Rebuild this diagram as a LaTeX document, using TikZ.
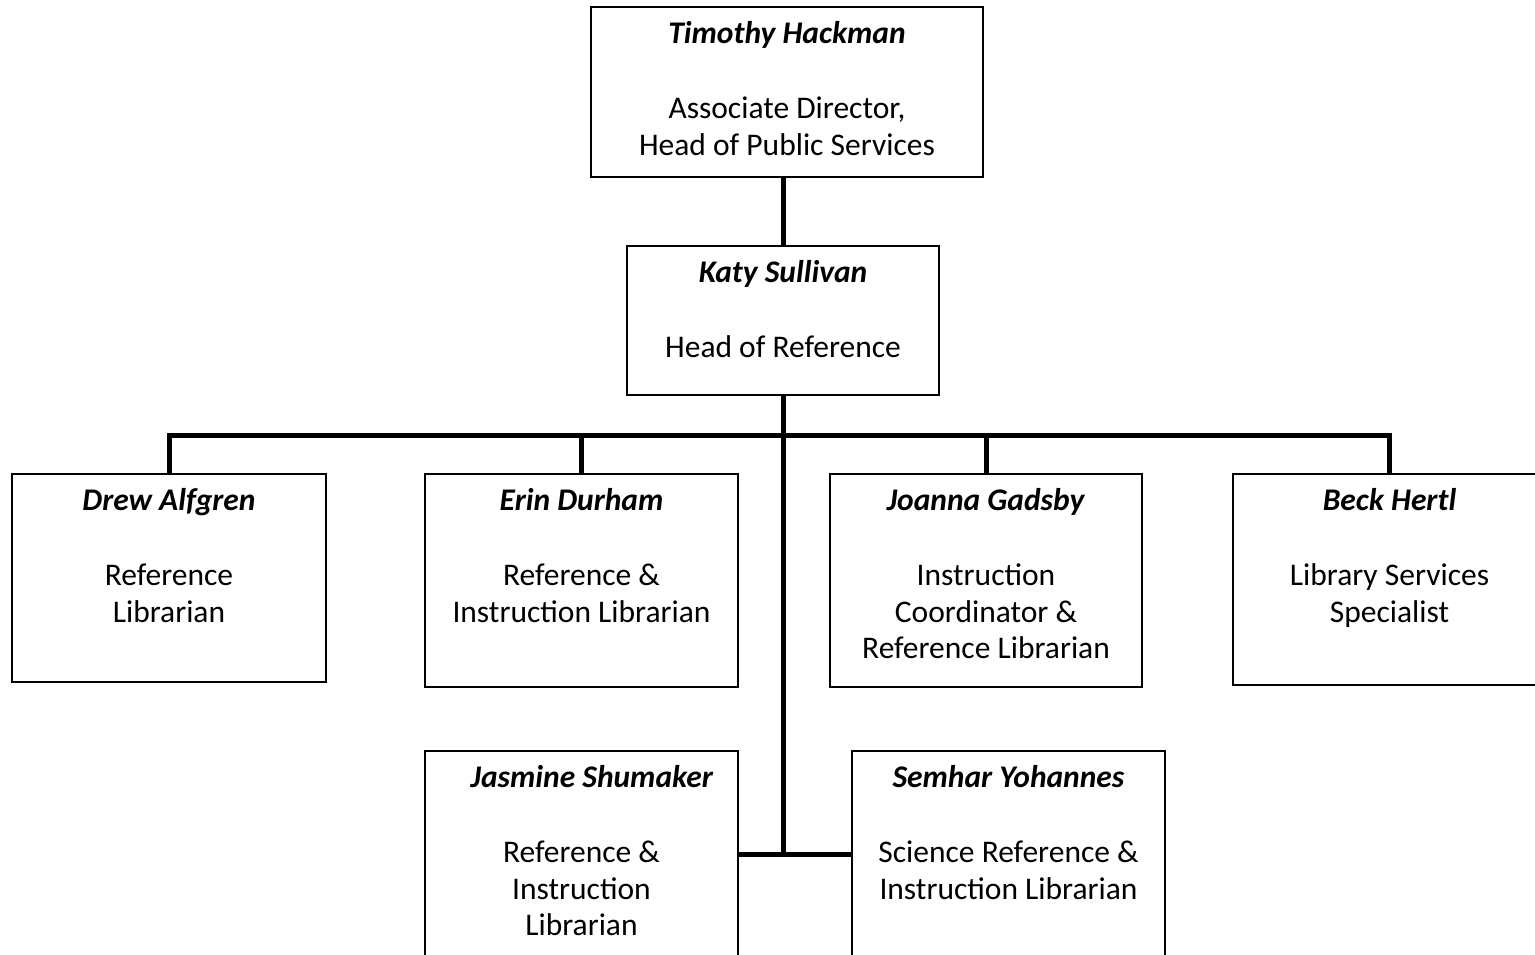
\documentclass[tikz,border=0pt]{standalone}
\usepackage{fontspec}
\setmainfont{Carlito}
\usetikzlibrary{positioning}

\newcommand{\pname}[1]{\rule{0pt}{24pt}\textbf{\textit{#1}}}

\begin{document}
\begin{tikzpicture}[x=1pt, y=1pt,
    person/.style={draw, line width=1.5pt, inner sep=0pt},
    info/.style={inner sep=0pt, align=center, font=\fontsize{31.5}{36.5}\selectfont},
    link/.style={line width=5pt},
]
\useasboundingbox (0,0) rectangle (1535,-954);
\clip (0,0) rectangle (1535,-954);

% top two levels
\node[person, minimum width=392pt, minimum height=170pt] (tim) at (787,-92) {};
\node[info, below=13pt of tim.north] (timtxt) {\pname{Timothy Hackman}\\[39pt] Associate Director,\\ Head of Public Services};

\node[person, minimum width=312pt, minimum height=149pt] (katy) at (783,-320.5) {};
\node[info, below=13pt of katy.north] (katytxt) {\pname{Katy Sullivan}\\[39pt] Head of Reference};

% middle row
\node[person, minimum width=314pt, minimum height=208pt] (drew) at (169,-578) {};
\node[info, below=13pt of drew.north] (drewtxt) {\pname{Drew Alfgren}\\[39pt] Reference\\ Librarian};

\node[person, minimum width=313pt, minimum height=213pt] (erin) at (581.5,-580.5) {};
\node[info, below=13pt of erin.north] (erintxt) {\pname{Erin Durham}\\[39pt] Reference \&\\ Instruction Librarian};

\node[person, minimum width=312pt, minimum height=213pt] (joanna) at (986,-580.5) {};
\node[info, below=13pt of joanna.north] (joannatxt) {\pname{Joanna Gadsby}\\[39pt] Instruction\\ Coordinator \&\\ Reference Librarian};

\node[person, minimum width=313pt, minimum height=211pt] (beck) at (1389.5,-579.5) {};
\node[info, below=13pt of beck.north] (becktxt) {\pname{Beck Hertl}\\[39pt] Library Services\\ Specialist};

% bottom row
\node[person, minimum width=313pt, minimum height=206pt] (jas) at (581.5,-854) {};
\node[info, below=13pt of jas.north] (jastxt) {\hspace*{21pt}\pname{Jasmine Shumaker}\\[39pt] Reference \&\\ Instruction\\ Librarian};

\node[person, minimum width=313pt, minimum height=206pt] (sem) at (1008.5,-854) {};
\node[info, below=13pt of sem.north] (semtxt) {\pname{Semhar Yohannes}\\[39pt] Science Reference \&\\ Instruction Librarian};

% connectors
\coordinate (bus) at (783,-435);
\draw[link] (katy.north) -- (katy.north |- tim.south);
\draw[link] (katy.south) -- (katy.south |- jas.east);
\draw[link] (drew.north) |- (bus) -| (beck.north);
\draw[link] (erin.north) -- (erin.north |- bus);
\draw[link] (joanna.north) -- (joanna.north |- bus);
\draw[link] (jas.east) -- (sem.west);
\end{tikzpicture}
\end{document}
